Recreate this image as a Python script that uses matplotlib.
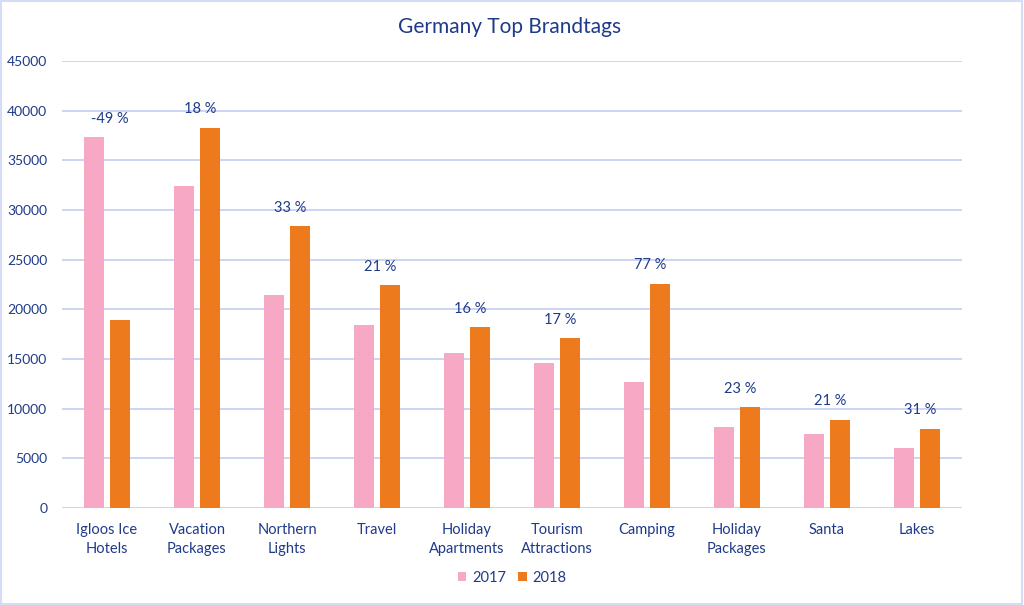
import numpy as np
import matplotlib.pyplot as plt
from matplotlib.patches import Rectangle

# Данные графика
categories = ['Igloos Ice\nHotels', 'Vacation\nPackages', 'Northern\nLights', 'Travel',
              'Holiday\nApartments', 'Tourism\nAttractions', 'Camping', 'Holiday\nPackages',
              'Santa', 'Lakes']
values_2017 = [37300, 32400, 21400, 18400, 15600, 14600, 12700, 8200, 7400, 6000]
values_2018 = [18900, 38300, 28400, 22400, 18200, 17100, 22600, 10200, 8900, 8000]
change_labels = ['-49 %', '18 %', '33 %', '21 %', '16 %', '17 %', '77 %', '23 %', '21 %', '31 %']
y_ticks = [0, 5000, 10000, 15000, 20000, 25000, 30000, 35000, 40000, 45000]

text_color = '#1F3A8A'
pink = '#F7A8C4'
orange = '#EE7A1E'
grid_color = '#C3CDF2'

plt.rcParams['font.family'] = ['Lato', 'DejaVu Sans']

fig = plt.figure(figsize=(10.24, 6.05), dpi=100)
ax = fig.add_axes([62 / 1024, 1 - 508 / 605, 900 / 1024, 447 / 605])

x = np.arange(len(categories))
w = 0.23
ax.bar(x - 0.145, values_2017, w, color=pink, label='2017', zorder=3)
ax.bar(x + 0.145, values_2018, w, color=orange, label='2018', zorder=3)

# Подписи процентов над группами
for i, lab in enumerate(change_labels):
    top = max(values_2017[i], values_2018[i])
    ax.annotate(lab, (x[i] + 0.03, top), xytext=(0, 8), textcoords='offset points',
                ha='center', va='bottom', fontsize=10.5, color=text_color)

ax.set_xlim(-0.5, len(categories) - 0.5)
ax.set_ylim(0, 45000)
ax.set_yticks(y_ticks)
ax.set_xticks(x)
ax.set_xticklabels(categories, fontsize=10.5, color=text_color, linespacing=1.45, va='top')
ax.tick_params(axis='y', labelsize=10, labelcolor=text_color, length=0, pad=10.5)
ax.tick_params(axis='x', length=0, pad=11)

ax.grid(axis='y', color=grid_color, linewidth=1.2, zorder=0)
for s in ax.spines.values():
    s.set_visible(False)

fig.text(0.498, 1 - 27 / 605, 'Germany Top Brandtags', ha='center', va='center',
         fontsize=15, color=text_color)

leg = ax.legend(loc='center', bbox_to_anchor=(0.5, (508 - 578) / 447), ncol=2,
                frameon=False, fontsize=10.5, handlelength=0.6, handleheight=0.6,
                columnspacing=0.8, handletextpad=0.4)
for t in leg.get_texts():
    t.set_color(text_color)

# Рамка вокруг рисунка
fig.patches.append(Rectangle((0.001, 0.002), 0.997, 0.996, transform=fig.transFigure,
                             fill=False, edgecolor='#D5DCF5', linewidth=1.5))

fig.savefig('out.png', dpi=100)
